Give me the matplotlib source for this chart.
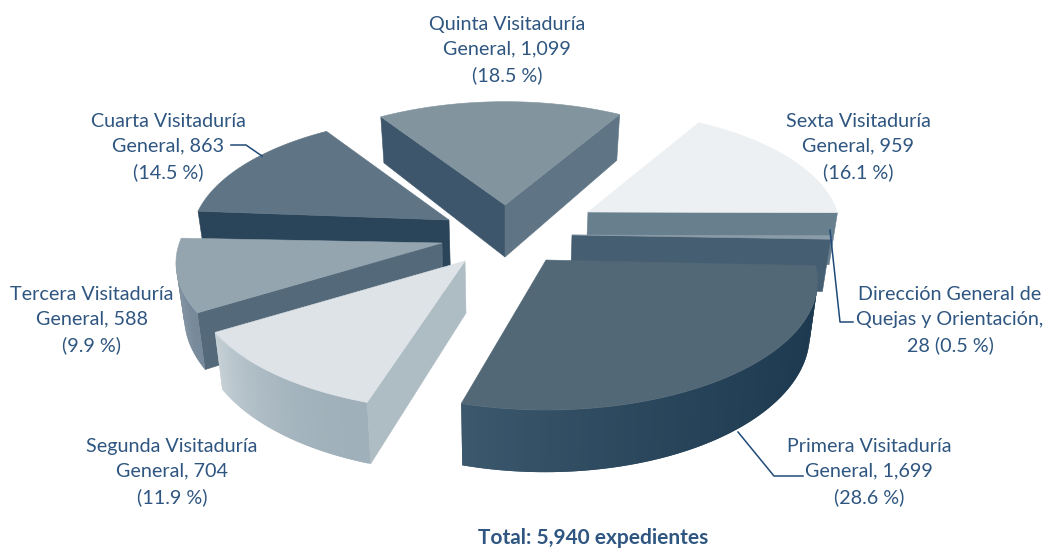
""" exploded 3d pie of expedientes by visitaduria """
from matplotlib import pyplot as plt
from matplotlib import patches
from matplotlib.colors import to_rgb
import numpy as np

# data
names = ["Primera", "Segunda", "Tercera", "Cuarta", "Quinta", "Sexta", "DGQO"]
values = [1699, 704, 588, 863, 1099, 959, 28]
labels = [
    "Primera Visitaduría\nGeneral, 1,699\n(28.6 %)",
    "Segunda Visitaduría\nGeneral, 704\n(11.9 %)",
    "Tercera Visitaduría\nGeneral, 588\n(9.9 %)",
    "Cuarta Visitaduría\nGeneral, 863\n(14.5 %)",
    "Quinta Visitaduría\nGeneral, 1,099\n(18.5 %)",
    "Sexta Visitaduría\nGeneral, 959\n(16.1 %)",
    "Dirección General de\nQuejas y Orientación,\n28 (0.5 %)",
]
total_text = "Total: 5,940 expedientes"

# layout in pixels
apex = {"Primera": (546, 260), "Segunda": (465, 261), "Tercera": (442, 243), "Cuarta": (449, 220),
        "Quinta": (505, 205), "Sexta": (588, 212), "DGQO": (572, 235)}
scale = {"Primera": 1.0, "Segunda": 1.0, "Tercera": 0.98, "Cuarta": 0.95,
         "Quinta": 0.95, "Sexta": 0.93, "DGQO": 0.96}
# the drawing is not a true projection, so edges are shifted a little (degrees)
nudge = {"Primera": (-0.4, -0.5), "Segunda": (2.0, 0.0), "Tercera": (0.0, -2.0), "Cuarta": (0.0, 0.5),
         "Quinta": (0.0, -2.5), "Sexta": (-3.0, -1.0), "DGQO": (-1.0, -1.0)}
label_pos = {"Primera": (869, 472), "Segunda": (172, 472), "Tercera": (92, 320), "Cuarta": (168, 147),
             "Quinta": (507, 50), "Sexta": (858, 147), "DGQO": (950, 320)}
# top, radial face at start, radial face at end, arc colour at start, arc colour at end
colors = {
    "Primera": ("#526876", "#3d566b", "#3d566b", "#1d394f", "#3c586d"),
    "Segunda": ("#dde3e7", "#aebcc4", "#aebcc4", "#9fb0ba", "#c6d0d6"),
    "Tercera": ("#94a5b0", "#546a7a", "#546a7a", "#76899a", "#8a9ba6"),
    "Cuarta": ("#5f7585", "#2a4459", "#2a4459", "#5f7585", "#5f7585"),
    "Quinta": ("#82959f", "#3d566b", "#5f7585", "#82959f", "#82959f"),
    "Sexta": ("#edf0f2", "#687f8e", "#687f8e", "#687f8e", "#687f8e"),
    "DGQO": ("#8a9ca8", "#465e72", "#465e72", "#465e72", "#465e72"),
}
draw_order = ["Quinta", "Cuarta", "Sexta", "DGQO", "Tercera", "Segunda", "Primera"]
start_angle = 3.0
radius = 268.0
squash = 125.6 / 268.0
persp = 0.163
depth = 52.0
vanish_x = 505.0
text_color = "#2f5680"
line_color = "#1f4a78"


def project(center, angle, r):
    """ project a point of the pie plane to pixels """
    u = np.cos(np.radians(angle)) * r
    v = np.sin(np.radians(angle)) * r
    w = 1.0 / (1.0 - persp * v)
    return center[0] + radius * u * w, center[1] + radius * squash * v * w, w


def drop(p, w):
    """ lower edge of a wall below a top point """
    return p[0] + (vanish_x - p[0]) * 0.025, p[1] + depth * w


def add_poly(ax, pts, color, lw=0.4):
    ax.add_patch(patches.Polygon(pts, closed=True, facecolor=color, edgecolor=color if lw else "none", linewidth=lw))


def draw_wedge(ax, name, a0, a1):
    center = apex[name]
    r = scale[name]
    top, face0, face1, arc0, arc1 = colors[name]
    angles = np.linspace(a0, a1, 80)
    rim = [project(center, a, r) for a in angles]
    c0 = to_rgb(arc0)
    c1 = to_rgb(arc1)

    # radial faces
    for p, color, visible in [(rim[0], face0, rim[0][0] < center[0]), (rim[-1], face1, center[0] < rim[-1][0])]:
        if visible:
            add_poly(ax, [center, p[:2], drop(p, p[2]), drop(center, 1.0)], color)

    # outer wall, each strip overlaps the next so no seams show
    for i in range(len(rim) - 1):
        p, q = rim[i], rim[i + 1]
        if q[0] < p[0]:
            t = (i / (len(rim) - 2)) ** 2
            color = tuple(c0[k] + (c1[k] - c0[k]) * t for k in range(3))
            q2 = rim[min(i + 2, len(rim) - 1)]
            add_poly(ax, [p[:2], q2[:2], drop(q2, q2[2]), drop(p, p[2])], color, lw=0)

    add_poly(ax, [center] + [p[:2] for p in rim], top)


plt.rcParams["font.family"] = ["Lato", "DejaVu Sans"]
fig = plt.figure(figsize=(10.47, 5.48), dpi=100)
ax = fig.add_axes([0, 0, 1, 1])
ax.set_xlim(0, 1047)
ax.set_ylim(548, 0)
ax.axis("off")

# wedges follow the values, clockwise from the right
edges = start_angle + np.concatenate([[0], np.cumsum(values)]) / sum(values) * 360.0
spans = {n: (edges[i] + nudge[n][0], edges[i + 1] + nudge[n][1]) for i, n in enumerate(names)}
for n in draw_order:
    draw_wedge(ax, n, *spans[n])

# leader lines
ax.plot([231, 246, 262], [145, 145, 156], color=line_color, lw=1.1)
ax.plot([830, 840, 853], [230, 322, 322], color=line_color, lw=1.1)
ax.plot([738, 774, 803], [432, 476, 476], color=line_color, lw=1.1)

for n, label in zip(names, labels):
    x, y = label_pos[n]
    ax.text(x, y, label, ha="center", va="center", color=text_color, fontsize=14.2, linespacing=1.58)
ax.text(593, 538, total_text, ha="center", va="center", color=text_color, fontsize=15, fontweight="bold")

fig.savefig("out.png", dpi=100)
